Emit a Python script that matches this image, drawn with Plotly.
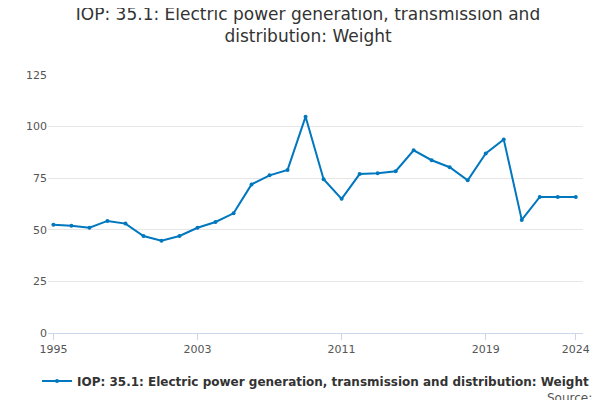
import plotly.graph_objects as go

years = list(range(1995, 2025))
weight = [52.4, 52, 51, 54.3, 53, 47, 44.7, 47, 51, 53.8, 58, 72, 76.4, 79, 104.8,
          74.5, 65, 77, 77.4, 78.4, 88.5, 83.7, 80.3, 74, 87, 93.8, 54.8, 65.9, 65.9, 65.9]

name = "<b>IOP: 35.1: Electric power generation, transmission and distribution: Weight</b>"
fig = go.Figure(data=go.Scatter(x=years, y=weight, mode="lines+markers", name=name,
                                line=dict(color="#0077be", width=2), marker=dict(size=4)))
fig.update_layout(
    title=dict(text="IOP: 35.1: Electric power generation, transmission and<br>distribution: Weight",
               x=0.5, y=0.97, font=dict(size=17, color="#333")),
    font=dict(family="DejaVu Sans", color="#555", size=11),
    plot_bgcolor="white", paper_bgcolor="white",
    showlegend=True,
    legend=dict(orientation="h", x=0.5, xanchor="center", y=-0.13, yanchor="top",
                font=dict(size=12, color="#333")),
    margin={"r": 25, "t": 67, "l": 40, "b": 73},
    width=600, height=400,
)
fig.update_xaxes(tickvals=[1995, 2003, 2011, 2019, 2024], range=[1994.7, 2024.4],
                 showgrid=False, showline=True, linecolor="#ccd6eb",
                 ticks="outside", ticklen=6, tickcolor="#ccd6eb")
fig.update_yaxes(range=[0, 125], tickvals=[0, 25, 50, 75, 100, 125], gridcolor="#e6e6e6",
                 zeroline=False)
fig.add_annotation(text="Source:", x=1.02, xref="paper", xanchor="right", y=-0.25, yref="paper",
                   yanchor="middle", showarrow=False, font=dict(size=12, color="#555"))
fig.write_html("out.html")
